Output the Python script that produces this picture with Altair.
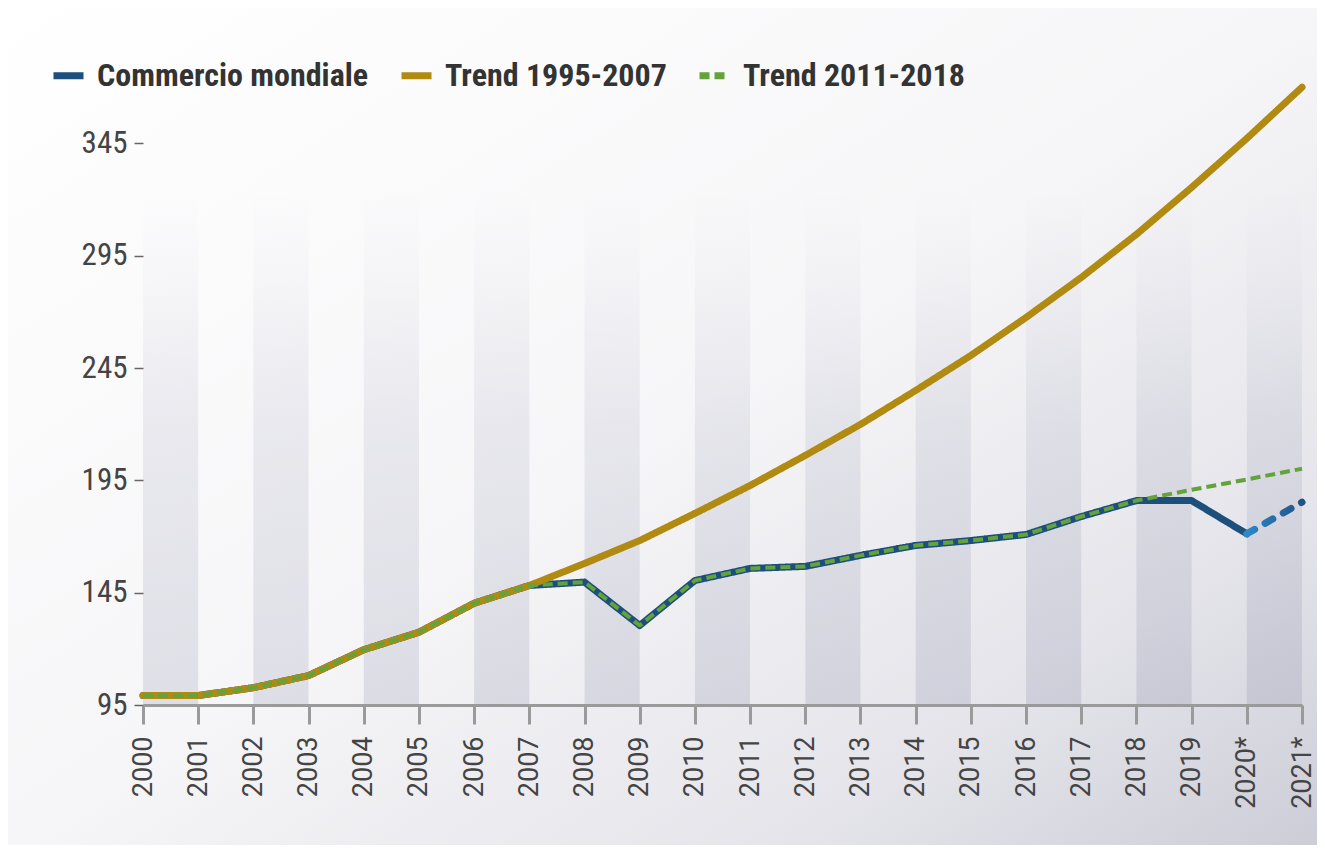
import altair as alt
import pandas as pd

# ---------------- data ----------------
years = ["2000", "2001", "2002", "2003", "2004", "2005", "2006", "2007", "2008", "2009",
         "2010", "2011", "2012", "2013", "2014", "2015", "2016", "2017", "2018", "2019",
         "2020*", "2021*"]

commercio = [99.2, 99.2, 102.7, 108.1, 119.6, 127.4, 140.3, 148.2, 149.7, 130.4,
             150.4, 155.8, 156.7, 161.6, 166.0, 168.2, 170.9, 178.9, 186.0, 186.0,
             171.2, 185.3]

trend_1995_2007 = [99.2, 99.2, 102.7, 108.1, 119.6, 127.4, 140.3, 148.2, 158.0, 168.2,
                   180.3, 192.7, 206.1, 219.9, 235.0, 250.6, 267.5, 285.3, 304.5, 325.4,
                   347.2, 370.0]

trend_2011_2018 = [99.2, 99.2, 102.7, 108.1, 119.6, 127.4, 140.3, 148.2, 149.7, 130.4,
                   150.4, 155.8, 156.7, 161.6, 166.0, 168.2, 170.9, 178.9, 186.0, 190.8,
                   195.4, 200.2]

y_ticks = [95, 145, 195, 245, 295, 345]
y_domain = [95, 375]

series_names = ["Commercio mondiale", "Trend 1995-2007", "Trend 2011-2018"]
series_colors = ["#1d4f7d", "#b08a11", "#64a33b"]
series_dashes = [[1, 0], [1, 0], [10, 5]]

# ---------------- tables ----------------
n_solid = 21  # 2000 .. 2020* are observed, 2020*-2021* is the dashed estimate
df_blue = pd.DataFrame({"year": years[:n_solid], "value": commercio[:n_solid],
                        "series": series_names[0]})
df_fore = pd.DataFrame({"year": years[n_solid - 1:], "value": commercio[n_solid - 1:]})
df_gold = pd.DataFrame({"year": years, "value": trend_1995_2007, "series": series_names[1]})
df_green = pd.DataFrame({"year": years, "value": trend_2011_2018, "series": series_names[2]})
df_stripes = pd.DataFrame({"year": years[0::2], "year_end": years[1::2],
                           "value": y_domain[0], "value_top": y_domain[1]})

NARROW = "Roboto Condensed, Roboto, sans-serif"
REG = "Roboto, Liberation Sans, sans-serif"

W, H = 1159, 629
PAD = {"left": 135, "top": 68, "right": 15, "bottom": 140}

x_enc = alt.X("year:O",
              scale=alt.Scale(type="point", domain=years, padding=0),
              axis=alt.Axis(title=None, orient="bottom", zindex=2,
                            labelAngle=-90, labelFont=REG, labelFontSize=27,
                            labelColor="#444444", labelPadding=12,
                            domainColor="#9a9a9a", domainWidth=3,
                            tickColor="#9a9a9a", tickWidth=3, tickSize=19,
                            grid=False))
y_enc = alt.Y("value:Q",
              scale=alt.Scale(domain=y_domain, nice=False, zero=False),
              axis=alt.Axis(title=None, orient="left", zindex=2,
                            values=y_ticks, labelFont=NARROW, labelFontSize=31,
                            labelColor="#444444", labelPadding=7, domain=False,
                            tickColor="#666666", tickWidth=1.5, tickSize=9, grid=False))

legend_def = dict(title=None, orient="none", legendX=-93, legendY=-19,
                  direction="horizontal", columns=3,
                  labelFont=NARROW, labelFontSize=32, labelLimit=0,
                  labelFontWeight="bold", labelColor="#333333",
                  symbolType="stroke", symbolSize=900,
                  symbolStrokeWidth=7, labelOffset=10,
                  columnPadding=18)

color_enc = alt.Color("series:N",
                      scale=alt.Scale(domain=series_names, range=series_colors),
                      legend=alt.Legend(**legend_def))
dash_enc = alt.StrokeDash("series:N",
                          scale=alt.Scale(domain=series_names, range=series_dashes),
                          legend=alt.Legend(**legend_def))

# ---------------- background ----------------
bg = alt.Chart(alt.Data(values=[{"k": 1}])).mark_rect(
    color=alt.LinearGradient(
        gradient="linear", x1=0, y1=0, x2=1, y2=1,
        stops=[alt.GradientStop(offset=0, color="#ffffff"),
               alt.GradientStop(offset=0.5, color="#f6f6f8"),
               alt.GradientStop(offset=0.8, color="#e4e4ea"),
               alt.GradientStop(offset=1, color="#cdcdd8")])
).encode(x=alt.value(-PAD["left"]), x2=alt.value(W + PAD["right"]),
         y=alt.value(-PAD["top"]), y2=alt.value(H + PAD["bottom"]))

stripes = alt.Chart(df_stripes).mark_rect(
    color=alt.LinearGradient(
        gradient="linear", x1=0, y1=0, x2=0, y2=1,
        stops=[alt.GradientStop(offset=0, color="rgba(105,105,145,0)"),
               alt.GradientStop(offset=0.18, color="rgba(105,105,145,0)"),
               alt.GradientStop(offset=0.32, color="rgba(105,105,145,0.03)"),
               alt.GradientStop(offset=0.55, color="rgba(105,105,145,0.11)"),
               alt.GradientStop(offset=1, color="rgba(105,105,145,0.17)")])
).encode(x=x_enc, x2="year_end:O", y=y_enc, y2="value_top:Q")

# ---------------- lines ----------------
blue = alt.Chart(df_blue).mark_line(strokeWidth=7, strokeCap="round", strokeJoin="round").encode(
    x=x_enc, y=y_enc, color=color_enc, strokeDash=dash_enc)

fore = alt.Chart(df_fore).mark_line(
    strokeWidth=7, strokeCap="round", strokeDash=[9, 12],
    stroke=alt.LinearGradient(
        gradient="linear", x1=0, y1=0, x2=1, y2=0,
        stops=[alt.GradientStop(offset=0, color="#2b88c8"),
               alt.GradientStop(offset=1, color="#1f5485")])
).encode(x=x_enc, y=y_enc)

gold = alt.Chart(df_gold).mark_line(strokeWidth=7, strokeCap="round", strokeJoin="round").encode(
    x=x_enc, y=y_enc, color=color_enc, strokeDash=dash_enc)

green = alt.Chart(df_green).mark_line(strokeWidth=4, strokeCap="butt", strokeJoin="round").encode(
    x=x_enc, y=y_enc, color=color_enc, strokeDash=dash_enc)

chart = alt.layer(bg, stripes, blue, fore, gold, green).properties(
    width=W, height=H, padding=PAD,
    autosize=alt.AutoSizeParams(type="none")
).configure_view(stroke=None)

chart.save("out.html", embed_options={"renderer": "svg", "actions": False})
